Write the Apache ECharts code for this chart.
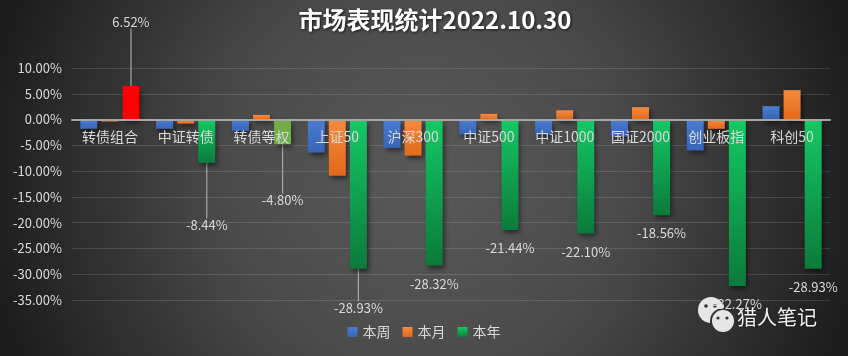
<!DOCTYPE html>
<html>
<head>
<meta charset="utf-8">
<script src="https://cdn.jsdelivr.net/npm/echarts@6/dist/echarts.min.js"></script>
<style>html,body{margin:0;padding:0;background:#333;}#c{width:848px;height:356px;}</style>
</head>
<body>
<div id="c"></div>
<script>
const categories = ['转债组合','中证转债','转债等权','上证50','沪深300','中证500','中证1000','国证2000','创业板指','科创50'];
const weekValues = [-1.8,-1.8,-2.2,-6.4,-5.5,-2.9,-2.9,-3.3,-6.0,2.6];
const monthValues = [-0.4,-0.8,0.9,-10.9,-7.0,1.1,1.8,2.4,-1.8,5.7];
const yearValues = [6.52,-8.44,-4.80,-28.93,-28.32,-21.44,-22.10,-18.56,-32.27,-28.93];
const seriesNames = ['本周','本月','本年'];
const yTicks = {min:-35, max:10, interval:5};

// label layout (styling): distance of each 本年 label from the bar end, and whether a leader line is drawn
const labelGap = [64,62,56,39,19,18,19,18,18,18];
const leaderLine = [true,true,true,true,false,false,false,false,false,false];

const FONT = '"Noto Sans CJK SC", "Noto Sans", sans-serif';
const grad = (a,b) => new echarts.graphic.LinearGradient(0,0,0,1,[{offset:0,color:a},{offset:1,color:b}]);
const shadow = {shadowBlur:5, shadowColor:'rgba(0,0,0,0.55)', shadowOffsetX:2, shadowOffsetY:3};

const greenGrad = grad('#14c964','#0b7a3b');
const yearData = yearValues.map((v,i) => {
  const item = {value:v, labelLine:{show:leaderLine[i]}};
  if (i === 0) item.itemStyle = {color:'#ff0000'};
  if (i === 2) item.itemStyle = {color:'#70ad47'};
  return item;
});

const GRID_TOP = 68, GRID_BOTTOM = 56, H = 356;
const plotH = H - GRID_TOP - GRID_BOTTOM;
// move the category axis up to the zero line
const zeroOffset = -plotH * (0 - yTicks.min) / (yTicks.max - yTicks.min);

const chart = echarts.init(document.getElementById('c'), null, {renderer:'canvas'});
chart.setOption({
  backgroundColor: {type:'radial', x:0.5, y:0.5, r:1.25, colorStops:[
    {offset:0,color:'#595959'},{offset:0.45,color:'#4a4a4a'},{offset:1,color:'#1c1c1c'}]},
  textStyle:{fontFamily:FONT},
  animation:false,
  title:{
    text:'市场表现统计2022.10.30', left:430, top:3, textAlign:'center',
    textStyle:{color:'#ffffff', fontSize:24, fontWeight:'bold', fontFamily:FONT,
      textShadowColor:'rgba(0,0,0,0.7)', textShadowBlur:3, textShadowOffsetX:1, textShadowOffsetY:1}
  },
  legend:{
    data:seriesNames, bottom:12, left:'center', itemWidth:10, itemHeight:10, itemGap:12,
    icon:'rect', textStyle:{color:'#d9d9d9', fontSize:14, fontFamily:FONT}
  },
  grid:{left:72, right:18, top:GRID_TOP, bottom:GRID_BOTTOM, containLabel:false},
  xAxis:{
    type:'category', data:categories, z:10, offset:zeroOffset,
    axisLine:{onZero:false, lineStyle:{color:'#a6a6a6', width:2}},
    axisTick:{show:false},
    axisLabel:{color:'#d9d9d9', fontSize:14, margin:10, fontFamily:FONT, interval:0},
    splitLine:{show:false}
  },
  yAxis:{
    type:'value', min:yTicks.min, max:yTicks.max, interval:yTicks.interval,
    axisLine:{show:false}, axisTick:{show:false},
    axisLabel:{color:'#d9d9d9', fontSize:13, margin:10, fontFamily:FONT,
      formatter:v => v.toFixed(2)+'%'},
    splitLine:{lineStyle:{color:'rgba(255,255,255,0.13)', width:1}}
  },
  series:[
    {name:seriesNames[0], type:'bar', data:weekValues, barWidth:17, barGap:'24%',
      itemStyle:Object.assign({color:grad('#4a7dd2','#3864b6')}, shadow)},
    {name:seriesNames[1], type:'bar', data:monthValues, barWidth:17,
      itemStyle:Object.assign({color:grad('#f58b3e','#e2691b')}, shadow)},
    {name:seriesNames[2], type:'bar', data:yearData, barWidth:17,
      itemStyle:Object.assign({color:greenGrad}, shadow),
      label:{show:true, position:'bottom', color:'#d9d9d9', fontSize:13, fontFamily:FONT,
        formatter:p => p.value.toFixed(2)+'%'},
      labelLine:{show:true, lineStyle:{color:'#a6a6a6', width:1.2}},
      labelLayout:function(p){
        const r = p.rect; const v = yearValues[p.dataIndex]; const g = labelGap[p.dataIndex];
        return {x:r.x + r.width/2, y: v >= 0 ? r.y - g : r.y + r.height + g,
          align:'center', verticalAlign:'middle'};
      }
    }
  ],
  graphic:[
    {type:'group', z:100, children:[
      {type:'circle', shape:{cx:711, cy:310, r:13}, style:{fill:'#e6e6e6'}},
      {type:'circle', shape:{cx:706, cy:306, r:1.8}, style:{fill:'#333'}},
      {type:'circle', shape:{cx:715, cy:306, r:1.8}, style:{fill:'#333'}},
      {type:'circle', shape:{cx:723, cy:321, r:12}, style:{fill:'#e6e6e6', stroke:'#333', lineWidth:2}},
      {type:'circle', shape:{cx:718, cy:318, r:1.6}, style:{fill:'#333'}},
      {type:'circle', shape:{cx:727, cy:318, r:1.6}, style:{fill:'#333'}},
      {type:'text', x:737, y:317, style:{text:'猎人笔记', fill:'#f2f2f2', fontSize:20, fontFamily:FONT,
        verticalAlign:'middle', textShadowColor:'rgba(0,0,0,0.6)', textShadowBlur:2}}
    ]}
  ]
});
</script>
</body>
</html>
